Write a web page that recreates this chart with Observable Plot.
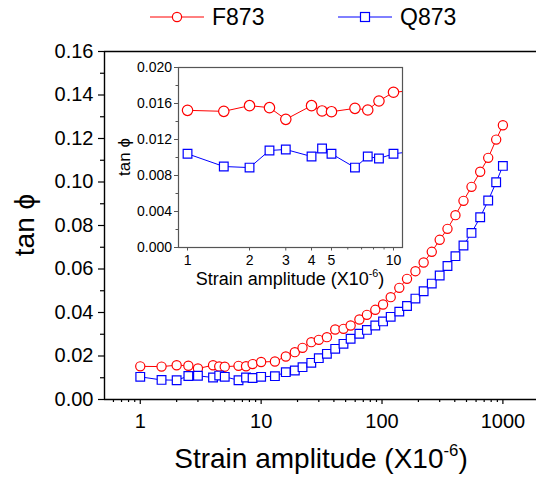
<!DOCTYPE html>
<html><head><meta charset="utf-8">
<script src="https://cdn.jsdelivr.net/npm/d3@7"></script>
<script src="https://cdn.jsdelivr.net/npm/@observablehq/plot@0.6"></script>
<style>
body{margin:0;background:#fff;font-family:"Liberation Sans",Arial,sans-serif;}
#wrap{position:relative;width:536px;height:477px;overflow:hidden;background:#fff}
#main{position:absolute;left:0;top:0}
#inset{position:absolute;left:100px;top:50px}
#legend{position:absolute;left:0;top:0}
svg{overflow:visible}
</style></head><body>
<div id="wrap"><div id="main"></div><div id="inset"></div><div id="legend"></div></div>
<script>
// strain amplitude (x10^-6)
const strain = [1, 1.5, 2, 2.5, 3, 4, 4.5, 5, 6.5, 7.5, 8.5, 10,
  13, 16, 19, 22, 26, 30, 35, 41, 48, 55, 65, 75, 88, 102,
  118, 139, 161, 189, 221, 258, 300, 348, 405, 472, 550, 649, 756, 880, 1000];
const f873 = [0.01524, 0.01513, 0.01576, 0.01554, 0.01424, 0.01576, 0.01517, 0.01509, 0.01546, 0.01528, 0.01628, 0.01725,
  0.01747, 0.01977, 0.02176, 0.02375, 0.02636, 0.02743, 0.02866, 0.03218, 0.03249, 0.03402, 0.03678, 0.03893, 0.04123, 0.04368,
  0.04705, 0.05134, 0.05548, 0.05900, 0.06299, 0.06790, 0.07342, 0.07847, 0.08475, 0.09134, 0.09778, 0.1047, 0.1111, 0.1195, 0.1261];
const q873 = [0.01041, 0.00900, 0.00888, 0.01078, 0.01089, 0.01011, 0.01100, 0.01041, 0.00888, 0.01011, 0.00989, 0.01041,
  0.01073, 0.01257, 0.01333, 0.01486, 0.01686, 0.01901, 0.02100, 0.0233, 0.0256, 0.0279, 0.0302, 0.0320, 0.0340, 0.0359,
  0.0380, 0.0404, 0.0430, 0.0464, 0.0498, 0.0533, 0.0570, 0.0614, 0.0659, 0.0708, 0.0766, 0.0838, 0.0915, 0.0999, 0.1074];
const seriesNames = ["F873", "Q873"];
const seriesColors = ["#ff0000", "#0000ff"];

const mainXTicks = [1, 10, 100, 1000];
const mainXMinor = [0.6, 0.7, 0.8, 0.9, 2, 3, 4, 5, 6, 7, 8, 9, 20, 30, 40, 50, 60, 70, 80, 90, 200, 300, 400, 500, 600, 700, 800, 900];
const mainYTicks = [0, 0.02, 0.04, 0.06, 0.08, 0.10, 0.12, 0.14, 0.16];
const mainYMinor = [0.01, 0.03, 0.05, 0.07, 0.09, 0.11, 0.13, 0.15];
const insetXTicks = [1, 2, 3, 4, 5, 10];
const insetXMinor = [6, 7, 8, 9];
const insetYTicks = [0, 0.004, 0.008, 0.012, 0.016, 0.020];
const insetYMinor = [0.002, 0.006, 0.010, 0.014, 0.018];

const data = strain.map((s, i) => ({s, f: f873[i], q: q873[i]}));
const font = "Liberation Sans, Arial, sans-serif";

function addLabel(svg, x, y, size, rotate, parts) {
  const t = d3.select(svg).append("text")
    .attr("transform", `translate(${x},${y})` + (rotate ? " rotate(-90)" : ""))
    .attr("text-anchor", "middle")
    .attr("font-family", font)
    .attr("font-size", size)
    .attr("fill", "#000");
  parts.forEach(p => {
    const ts = t.append("tspan").text(p.text);
    if (p.sup) ts.attr("font-size", size * 0.6).attr("dy", -size * 0.42);
    if (p.down) ts.attr("dy", size * 0.42);
  });
}

// main plot
const mainPlot = Plot.plot({
  width: 536, height: 477,
  marginLeft: 104, marginRight: 0, marginTop: 51, marginBottom: 78,
  style: {fontFamily: font, background: "transparent", color: "#000"},
  x: {type: "log", domain: [0.506, 1897]},
  y: {domain: [0, 0.16]},
  marks: [
    Plot.axisY({ticks: mainYTicks, tickSize: 6, tickPadding: 5, tickFormat: d => d.toFixed(2), fontSize: 20, label: null, strokeWidth: 1.2}),
    Plot.axisY({ticks: mainYMinor, tickSize: 4, tickFormat: () => "", label: null, strokeWidth: 1.2}),
    Plot.axisX({ticks: mainXTicks, tickSize: 5, tickPadding: 9, tickFormat: d => String(d), fontSize: 20, label: null, strokeWidth: 1.2}),
    Plot.axisX({ticks: mainXMinor, tickSize: 3, tickFormat: () => "", label: null, strokeWidth: 1.2}),
    Plot.ruleX([0.506], {stroke: "#000", strokeWidth: 1.4}),
    Plot.ruleY([0], {stroke: "#000", strokeWidth: 1.4}),
    Plot.ruleY([0.16], {stroke: "#000", strokeWidth: 1.4}),
    Plot.line(data, {x: "s", y: "f", stroke: seriesColors[0], strokeWidth: 1}),
    Plot.dot(data, {x: "s", y: "f", r: 4.6, stroke: seriesColors[0], fill: "white", strokeWidth: 1.2}),
    Plot.line(data, {x: "s", y: "q", stroke: seriesColors[1], strokeWidth: 1}),
    Plot.dot(data, {x: "s", y: "q", symbol: "square", r: 4.9, stroke: seriesColors[1], fill: "white", strokeWidth: 1.2})
  ]
});
addLabel(mainPlot, 34, 225, 28, true, [{text: "tan \u03D5"}]);
addLabel(mainPlot, 321, 468, 28, false, [{text: "Strain amplitude (X10"}, {text: "-6", sup: true}, {text: ")", down: true}]);
document.getElementById("main").appendChild(mainPlot);

// inset plot
const insetPlot = Plot.plot({
  width: 320, height: 250,
  marginLeft: 78, marginRight: 18, marginTop: 17, marginBottom: 53,
  style: {fontFamily: font, background: "transparent", color: "#000"},
  x: {type: "log", domain: [0.904, 11.06]},
  y: {domain: [0, 0.02]},
  marks: [
    Plot.frame({stroke: "#555", strokeWidth: 1.2}),
    Plot.axisY({ticks: insetYTicks, tickSize: 4, tickPadding: 2.5, tickFormat: d => d.toFixed(3), fontSize: 14, label: null, stroke: "#555"}),
    Plot.axisY({ticks: insetYMinor, tickSize: 2.5, tickFormat: () => "", label: null, stroke: "#555"}),
    Plot.axisX({ticks: insetXTicks, tickSize: 3.5, tickPadding: 4, tickFormat: d => String(d), fontSize: 14, label: null, stroke: "#555"}),
    Plot.axisX({ticks: insetXMinor, tickSize: 2.5, tickFormat: () => "", label: null, stroke: "#555"}),
    Plot.line(data, {x: "s", y: "f", stroke: seriesColors[0], strokeWidth: 1, clip: true}),
    Plot.dot(data.filter(d => d.s <= 10), {x: "s", y: "f", r: 5.2, stroke: seriesColors[0], fill: "white", strokeWidth: 1.2}),
    Plot.line(data, {x: "s", y: "q", stroke: seriesColors[1], strokeWidth: 1, clip: true}),
    Plot.dot(data.filter(d => d.s <= 10), {x: "s", y: "q", symbol: "square", r: 4.9, stroke: seriesColors[1], fill: "white", strokeWidth: 1.2})
  ]
});
addLabel(insetPlot, 30, 107, 17, true, [{text: "tan \u03D5"}]);
addLabel(insetPlot, 190, 235, 18, false, [{text: "Strain amplitude (X10"}, {text: "-6", sup: true}, {text: ")", down: true}]);
document.getElementById("inset").appendChild(insetPlot);

// legend
const leg = d3.select("#legend").append("svg").attr("width", 536).attr("height", 36);
const legX = [150, 338];
seriesNames.forEach((name, i) => {
  const g = leg.append("g").attr("transform", `translate(${legX[i]},17)`);
  g.append("line").attr("x1", 0).attr("x2", 54).attr("y1", 0).attr("y2", 0)
    .attr("stroke", seriesColors[i]).attr("stroke-width", 1);
  if (i === 0) g.append("circle").attr("cx", 27).attr("cy", 0).attr("r", 4.6)
    .attr("fill", "white").attr("stroke", seriesColors[i]).attr("stroke-width", 1.2);
  else g.append("rect").attr("x", 22.5).attr("y", -4.5).attr("width", 9).attr("height", 9)
    .attr("fill", "white").attr("stroke", seriesColors[i]).attr("stroke-width", 1.2);
  g.append("text").attr("x", 62).attr("y", 0).attr("dy", "0.36em")
    .attr("font-family", font).attr("font-size", 23).attr("fill", "#000").text(name);
});
</script>
</body></html>
